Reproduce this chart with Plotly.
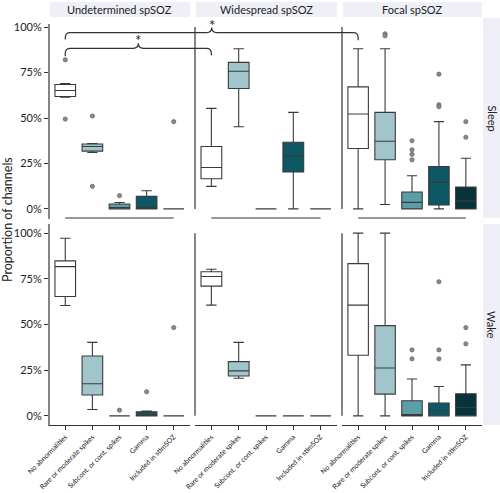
import plotly.graph_objects as go

# ---------------- data ----------------
categories = ["No abnormalities", "Rare or moderate spikes", "Subcont. or cont. spikes",
              "Gamma", "Included in stimSOZ"]
groups = ["Undetermined spSOZ", "Widespread spSOZ", "Focal spSOZ"]
states = ["Sleep", "Wake"]
y_tickvals = [0, 0.25, 0.5, 0.75, 1.0]
y_ticktext = ["0%", "25%", "50%", "75%", "100%"]

# Sleep: one list per group (Undetermined, Widespread, Focal), 5 categories each
sleep_q1 = [[0.618, 0.318, 0.0, 0.0, 0.0], [0.166, 0.662, 0.0, 0.203, 0.0], [0.332, 0.270, 0.0, 0.022, 0.0]]
sleep_med = [[0.651, 0.343, 0.008, 0.010, 0.0], [0.228, 0.757, 0.0, 0.293, 0.0], [0.522, 0.372, 0.036, 0.146, 0.044]]
sleep_q3 = [[0.684, 0.357, 0.027, 0.069, 0.0], [0.343, 0.806, 0.0, 0.367, 0.0], [0.671, 0.531, 0.093, 0.233, 0.120]]
sleep_lo = [[0.615, 0.310, 0.0, 0.0, 0.0], [0.124, 0.452, 0.0, 0.0, 0.0], [0.0, 0.024, 0.0, 0.0, 0.0]]
sleep_hi = [[0.690, 0.360, 0.035, 0.100, 0.0], [0.553, 0.881, 0.0, 0.531, 0.0], [0.881, 0.881, 0.182, 0.480, 0.279]]
sleep_out = [[[0.82, 0.494], [0.511, 0.124], [0.073], [], [0.48]],
             [[], [], [], [], []],
             [[], [0.963, 0.952], [0.375, 0.325, 0.30, 0.27], [0.741, 0.573, 0.562], [0.48, 0.394]]]

# Wake
wake_q1 = [[0.653, 0.114, 0.0, 0.0, 0.0], [0.710, 0.218, 0.0, 0.0, 0.0], [0.332, 0.119, 0.0, 0.0, 0.0]]
wake_med = [[0.817, 0.176, 0.0, 0.005, 0.0], [0.763, 0.246, 0.0, 0.0, 0.0], [0.606, 0.262, 0.007, 0.031, 0.046]]
wake_q3 = [[0.848, 0.328, 0.0, 0.022, 0.0], [0.789, 0.297, 0.0, 0.0, 0.0], [0.833, 0.494, 0.083, 0.070, 0.121]]
wake_lo = [[0.604, 0.035, 0.0, 0.0, 0.0], [0.606, 0.206, 0.0, 0.0, 0.0], [0.0, 0.0, 0.0, 0.0, 0.0]]
wake_hi = [[0.972, 0.402, 0.0, 0.026, 0.0], [0.802, 0.402, 0.0, 0.0, 0.0], [1.0, 1.0, 0.202, 0.161, 0.279]]
wake_out = [[[], [], [0.031], [0.132], [0.483]],
            [[], [], [], [], []],
            [[], [], [0.361, 0.312], [0.734, 0.361, 0.312], [0.483, 0.394]]]

fills = ["#ffffff", "#a0c6cc", "#5c9ea7", "#0e5865", "#09333a"]

# ---------------- layout geometry ----------------
W, H = 500, 493
FONT = "Lato, 'Open Sans', sans-serif"
XDOM = [(49 / W, 190 / W), (195 / W, 337 / W), (342 / W, 482 / W)]
YDOM = [(1 - 218 / H, 1 - 18 / H), (1 - 425 / H, 1 - 224 / H)]
XR = [0.4, 5.6]
YR = [-0.05, 1.05]


def to_px_x(c, xv):
    d = XDOM[c]
    return (d[0] + (xv - XR[0]) / (XR[1] - XR[0]) * (d[1] - d[0])) * W


def to_px_y(r, yv):
    d = YDOM[r]
    return (1 - (d[0] + (yv - YR[0]) / (YR[1] - YR[0]) * (d[1] - d[0]))) * H


def P(x, y):
    return f"{x / W:.5f},{1 - y / H:.5f}"


fig = go.Figure()
rows = [(sleep_q1, sleep_med, sleep_q3, sleep_lo, sleep_hi, sleep_out),
        (wake_q1, wake_med, wake_q3, wake_lo, wake_hi, wake_out)]

layout = dict()
for r, (q1, med, q3, lo, hi, outs) in enumerate(rows):
    for c in range(3):
        p = r * 3 + c + 1
        xa = "x" if p == 1 else f"x{p}"
        ya = "y" if p == 1 else f"y{p}"
        for k in range(5):
            fig.add_trace(go.Box(
                x=[k + 1], q1=[q1[c][k]], median=[med[c][k]], q3=[q3[c][k]],
                lowerfence=[lo[c][k]], upperfence=[hi[c][k]],
                fillcolor=fills[k], line=dict(color="#3a3a3a", width=1.1),
                width=0.76, boxpoints=False, xaxis=xa, yaxis=ya, hoverinfo="skip"))
            if outs[c][k]:
                fig.add_trace(go.Scatter(
                    x=[k + 1] * len(outs[c][k]), y=outs[c][k], mode="markers",
                    marker=dict(size=4.2, color="#8a8a8a", line=dict(color="#666", width=0.8)),
                    xaxis=xa, yaxis=ya, hoverinfo="skip"))
        xkey = "xaxis" if p == 1 else f"xaxis{p}"
        ykey = "yaxis" if p == 1 else f"yaxis{p}"
        layout[xkey] = dict(
            domain=list(XDOM[c]), range=XR, anchor=ya, automargin=False,
            tickvals=[1, 2, 3, 4, 5], ticktext=categories,
            showticklabels=(r == 1), ticks="outside" if r == 1 else "",
            ticklen=4, tickcolor="#333", tickangle=-45,
            tickfont=dict(size=7, family=FONT, color="#222"),
            showline=(r == 1), linecolor="#333", linewidth=1.2,
            showgrid=False, zeroline=False, fixedrange=True)
        layout[ykey] = dict(
            domain=list(YDOM[r]), range=YR, anchor=xa, automargin=False,
            tickvals=y_tickvals, ticktext=y_ticktext,
            showticklabels=(c == 0), ticks="outside" if c == 0 else "",
            ticklen=4, tickcolor="#333",
            tickfont=dict(size=11, family=FONT, color="#222"),
            showline=False, showgrid=False, zeroline=False, fixedrange=True)

shapes = []
annotations = []
line_style = dict(color="#333", width=1.2)

# strips
for c in range(3):
    shapes.append(dict(type="rect", xref="paper", yref="paper",
                       x0=XDOM[c][0] + 1 / W, x1=XDOM[c][1], y0=1 - 17 / H, y1=1 - 2 / H,
                       fillcolor="#efeff7", line=dict(width=0), layer="below"))
    annotations.append(dict(text=groups[c], xref="paper", yref="paper",
                            x=(XDOM[c][0] + XDOM[c][1]) / 2, y=1 - 9.5 / H,
                            xanchor="center", yanchor="middle",
                            showarrow=False, font=dict(size=11, family=FONT, color="#222")))
for r in range(2):
    shapes.append(dict(type="rect", xref="paper", yref="paper",
                       x0=483 / W, x1=1.0, y0=YDOM[r][0], y1=YDOM[r][1],
                       fillcolor="#efeff7", line=dict(width=0), layer="below"))
    annotations.append(dict(text=states[r], xref="paper", yref="paper",
                            x=491.5 / W, y=(YDOM[r][0] + YDOM[r][1]) / 2, textangle=90,
                            xanchor="center", yanchor="middle",
                            showarrow=False, font=dict(size=11, family=FONT, color="#222")))

# y-axis lines (capped)
for r in range(2):
    for c in range(3):
        x = to_px_x(c, XR[0])
        if c == 0:
            y_top = to_px_y(r, 1.0) - 3 if r == 0 else to_px_y(r, YR[1])
            y_bot = to_px_y(r, YR[0]) + 1
        else:
            y_top = to_px_y(r, 1.0)
            y_bot = to_px_y(r, 0.0)
        shapes.append(dict(type="line", xref="paper", yref="paper",
                           x0=x / W, x1=x / W, y0=1 - y_top / H, y1=1 - y_bot / H, line=line_style))

# capped x lines under top row
for c in range(3):
    yb = to_px_y(0, YR[0])
    shapes.append(dict(type="line", xref="paper", yref="paper",
                       x0=to_px_x(c, 1) / W, x1=to_px_x(c, 5) / W,
                       y0=1 - yb / H, y1=1 - yb / H, line=line_style))


# significance braces
def brace(c1, c2, yv, ylv, yrv, tip=5, rad=5):
    x1, x2 = to_px_x(c1, 1), to_px_x(c2, 1)
    y = to_px_y(0, yv)
    yl, yr = to_px_y(0, ylv), to_px_y(0, yrv)
    xm = (x1 + x2) / 2
    path = (f"M{P(x1, yl)} L{P(x1, y + rad)} Q{P(x1, y)} {P(x1 + rad, y)} "
            f"L{P(xm - rad, y)} Q{P(xm, y)} {P(xm, y - tip)} Q{P(xm, y)} {P(xm + rad, y)} "
            f"L{P(x2 - rad, y)} Q{P(x2, y)} {P(x2, y + rad)} L{P(x2, yr)}")
    shapes.append(dict(type="path", xref="paper", yref="paper", path=path, line=line_style))
    annotations.append(dict(text="*", xref="paper", yref="paper", x=xm / W,
                            y=1 - (y - tip - 3) / H, showarrow=False,
                            xanchor="center", yanchor="middle",
                            font=dict(size=15, family=FONT, color="#222")))


brace(0, 1, 0.883, 0.840, 0.845)
brace(0, 2, 0.970, 0.932, 0.927)

annotations.append(dict(text="Proportion of channels", xref="paper", yref="paper",
                        x=8 / W, y=1 - 220 / H, textangle=-90, showarrow=False,
                        xanchor="center", yanchor="middle",
                        font=dict(size=12.5, family=FONT, color="#222")))

fig.update_layout(
    width=W, height=H, margin=dict(l=0, r=0, t=0, b=0, autoexpand=False),
    paper_bgcolor="white", plot_bgcolor="white", showlegend=False,
    shapes=shapes, annotations=annotations, boxmode="overlay",
    font=dict(family=FONT), **layout)

fig.write_html("out.html", config={"displayModeBar": False},
               post_script="document.body.style.margin='0px';")
